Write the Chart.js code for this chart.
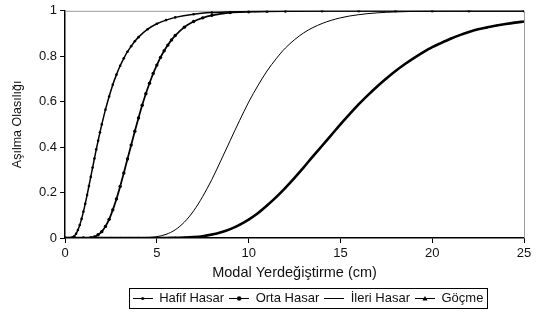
<!DOCTYPE html>
<html>
<head>
<meta charset="utf-8">
<script src="https://cdn.jsdelivr.net/npm/chart.js@4.4.0/dist/chart.umd.min.js"></script>
<style>
  body { margin: 0; background: #fff; }
</style>
</head>
<body>
<canvas id="chart1" width="537" height="323"></canvas>
<script>
// hasar seviyeleri
const seriesNames = ['Hafif Hasar', 'Orta Hasar', 'İleri Hasar', 'Göçme'];

// modal yerdeğiştirme (cm) / aşılma olasılığı
const hafifX = [0, 0.1, 0.2, 0.3, 0.4, 0.5, 0.6, 0.7, 0.8, 0.9, 1.0, 1.1, 1.2, 1.3, 1.4, 1.5, 1.6, 1.7, 1.8, 1.9, 2.0,
  2.2, 2.4, 2.6, 2.8, 3.0, 3.2, 3.4, 3.6, 3.8, 4.0, 4.5, 5, 5.5, 6, 7, 8, 9, 10, 12, 14, 16, 18, 20, 22, 25];
const hafifY = [0, 0, 0, 0, 0.003, 0.008, 0.019, 0.035, 0.057, 0.084, 0.116, 0.151, 0.189, 0.229, 0.269, 0.310, 0.350, 0.390, 0.428, 0.465, 0.500,
  0.565, 0.623, 0.675, 0.719, 0.758, 0.791, 0.820, 0.844, 0.866, 0.884, 0.919, 0.943, 0.959, 0.971, 0.985, 0.992, 0.995, 0.997, 0.999, 1, 1, 1, 1, 1, 1];

const ortaX = [0, 0.5, 1.0, 1.4, 1.6, 1.8, 2.0, 2.2, 2.4, 2.6, 2.8, 3.0, 3.2, 3.4, 3.6, 3.8, 4.0, 4.2, 4.4, 4.6, 4.8, 5.0,
  5.2, 5.4, 5.6, 5.8, 6.0, 6.5, 7, 7.5, 8, 9, 10, 11, 12, 14, 16, 18, 20, 22, 25];
const ortaY = [0, 0, 0, 0.001, 0.005, 0.014, 0.028, 0.051, 0.082, 0.124, 0.172, 0.227, 0.286, 0.348, 0.409, 0.470, 0.528, 0.584, 0.635, 0.681, 0.724, 0.761,
  0.795, 0.824, 0.849, 0.872, 0.891, 0.928, 0.953, 0.969, 0.980, 0.992, 0.996, 0.998, 0.999, 1, 1, 1, 1, 1, 1];

const ileriX = [0, 2, 4, 4.5, 5, 5.5, 6, 6.5, 7, 7.5, 8, 8.5, 9, 9.5, 10, 10.5, 11, 11.5, 12, 13, 14, 15, 16, 17, 18, 20, 22, 25];
const ileriY = [0, 0, 0, 0.002, 0.006, 0.016, 0.036, 0.070, 0.119, 0.183, 0.258, 0.343, 0.430, 0.516, 0.598, 0.670, 0.735, 0.789, 0.836,
  0.903, 0.944, 0.969, 0.983, 0.991, 0.995, 0.999, 1, 1];

const gocmeX = [0, 0.5, 1, 1.5, 2, 2.5, 3, 3.5, 4, 4.5, 5, 5.5, 6, 6.5, 7, 7.5, 8, 8.5, 9, 9.5, 10, 10.5, 11, 11.5, 12, 12.5,
  13, 13.5, 14, 14.5, 15, 15.5, 16, 16.5, 17, 17.5, 18, 18.5, 19, 19.5, 20, 20.5, 21, 21.5, 22, 22.5, 23, 23.5, 24, 24.5, 25];
const gocmeY = [0, 0, 0, 0, 0, 0, 0, 0, 0, 0, 0, 0, 0.001, 0.002, 0.004, 0.008, 0.015, 0.025, 0.039, 0.058, 0.081, 0.109, 0.143, 0.180, 0.221, 0.265,
  0.311, 0.359, 0.406, 0.453, 0.500, 0.545, 0.589, 0.629, 0.667, 0.702, 0.735, 0.765, 0.792, 0.817, 0.840, 0.859, 0.877, 0.893, 0.907, 0.919,
  0.927, 0.935, 0.942, 0.948, 0.953];

const FONT = "'Liberation Sans', Arial, sans-serif";
const LEGEND_CENTER = 308; // legend sits a little right of the page centre

function pairs(xs, ys) {
  return xs.map((x, i) => ({ x: x, y: ys[i] }));
}

// legend symbols: short line with the marker in the middle
function legendSymbol(marker) {
  const c = document.createElement('canvas');
  c.width = 20; c.height = 9;
  const g = c.getContext('2d');
  g.strokeStyle = '#000';
  g.lineWidth = 1;
  g.beginPath(); g.moveTo(0, 4.5); g.lineTo(20, 4.5); g.stroke();
  g.fillStyle = '#000';
  if (marker === 'dot') {
    g.beginPath(); g.arc(10, 4.5, 1.6, 0, Math.PI * 2); g.fill();
  } else if (marker === 'bigdot') {
    g.beginPath(); g.arc(10, 4.5, 2.2, 0, Math.PI * 2); g.fill();
  } else if (marker === 'tri') {
    g.beginPath(); g.moveTo(10, 2); g.lineTo(12.5, 6.5); g.lineTo(7.5, 6.5); g.closePath(); g.fill();
  }
  return c;
}
const symbols = [legendSymbol('dot'), legendSymbol('bigdot'), legendSymbol(null), legendSymbol('tri')];

// grey frame on top/right of the plot, box round the legend
const frames = {
  id: 'frames',
  afterLayout(chart) {
    const lg = chart.legend;
    const dx = LEGEND_CENTER - (lg.left + lg.right) / 2;
    lg.left += dx;
    lg.right += dx;
  },
  beforeDatasetsDraw(chart) {
    const a = chart.chartArea, ctx = chart.ctx;
    ctx.save();
    ctx.strokeStyle = '#9a9a9a';
    ctx.lineWidth = 1;
    ctx.beginPath();
    ctx.moveTo(a.left, a.top + 0.5);
    ctx.lineTo(a.right + 0.5, a.top + 0.5);
    ctx.lineTo(a.right + 0.5, a.bottom);
    ctx.stroke();
    ctx.restore();
  },
  afterDraw(chart) {
    const boxes = chart.legend.legendHitBoxes;
    if (!boxes || !boxes.length) return;
    let l = Infinity, r = -Infinity, t = Infinity, b = -Infinity;
    boxes.forEach(h => {
      l = Math.min(l, h.left); r = Math.max(r, h.left + h.width);
      t = Math.min(t, h.top); b = Math.max(b, h.top + h.height);
    });
    const ctx = chart.ctx;
    ctx.save();
    ctx.strokeStyle = '#000';
    ctx.lineWidth = 1;
    ctx.strokeRect(Math.round(l - 4) + 0.5, Math.round(t - 4) + 0.5, Math.round(r - l + 7), Math.round(b - t + 7));
    ctx.restore();
  }
};

new Chart(document.getElementById('chart1'), {
  type: 'line',
  data: {
    datasets: [
      {
        label: seriesNames[0],
        data: pairs(hafifX, hafifY),
        borderColor: '#000', backgroundColor: '#000',
        borderWidth: 1.5, pointRadius: 1.3, pointBorderWidth: 0, pointStyle: 'circle'
      },
      {
        label: seriesNames[1],
        data: pairs(ortaX, ortaY),
        borderColor: '#000', backgroundColor: '#000',
        borderWidth: 1.8, pointRadius: 1.7, pointBorderWidth: 0, pointStyle: 'circle'
      },
      {
        label: seriesNames[2],
        data: pairs(ileriX, ileriY),
        borderColor: '#000', backgroundColor: '#000',
        borderWidth: 1, pointRadius: 0
      },
      {
        label: seriesNames[3],
        data: pairs(gocmeX, gocmeY),
        borderColor: '#000', backgroundColor: '#000',
        borderWidth: 2.6, pointRadius: 1.4, pointBorderWidth: 0, pointStyle: 'triangle'
      }
    ]
  },
  options: {
    responsive: false,
    animation: false,
    cubicInterpolationMode: 'monotone',
    layout: { padding: { left: 8, right: 13, top: 8, bottom: 8 } },
    scales: {
      x: {
        type: 'linear', min: 0, max: 25,
        border: { color: '#000', width: 1.5 },
        grid: { drawOnChartArea: false, color: '#000', tickLength: 5, tickWidth: 1 },
        ticks: { stepSize: 5, color: '#111', font: { family: FONT, size: 13 }, padding: 3, maxRotation: 0 },
        title: { display: true, text: 'Modal Yerdeğiştirme (cm)', color: '#111', font: { family: FONT, size: 14.5 }, padding: { top: 0, bottom: 5 } }
      },
      y: {
        min: 0, max: 1,
        border: { color: '#000', width: 1.5 },
        grid: { drawOnChartArea: false, color: '#000', tickLength: 5, tickWidth: 1 },
        ticks: {
          stepSize: 0.2, color: '#111', font: { family: FONT, size: 13 }, padding: 3,
          callback: v => String(Math.round(v * 10) / 10)
        },
        title: { display: true, text: 'Aşılma Olasılığı', color: '#111', font: { family: FONT, size: 12.5 }, padding: { top: 2, bottom: 11 } }
      }
    },
    plugins: {
      tooltip: { enabled: false },
      legend: {
        position: 'bottom',
        labels: {
          usePointStyle: true,
          pointStyleWidth: 20,
          padding: 5,
          color: '#111',
          font: { family: FONT, size: 13 },
          generateLabels(chart) {
            const items = Chart.defaults.plugins.legend.labels.generateLabels(chart);
            items.forEach((it, i) => { it.pointStyle = symbols[i]; });
            return items;
          }
        }
      }
    }
  },
  plugins: [frames]
});
</script>
</body>
</html>
